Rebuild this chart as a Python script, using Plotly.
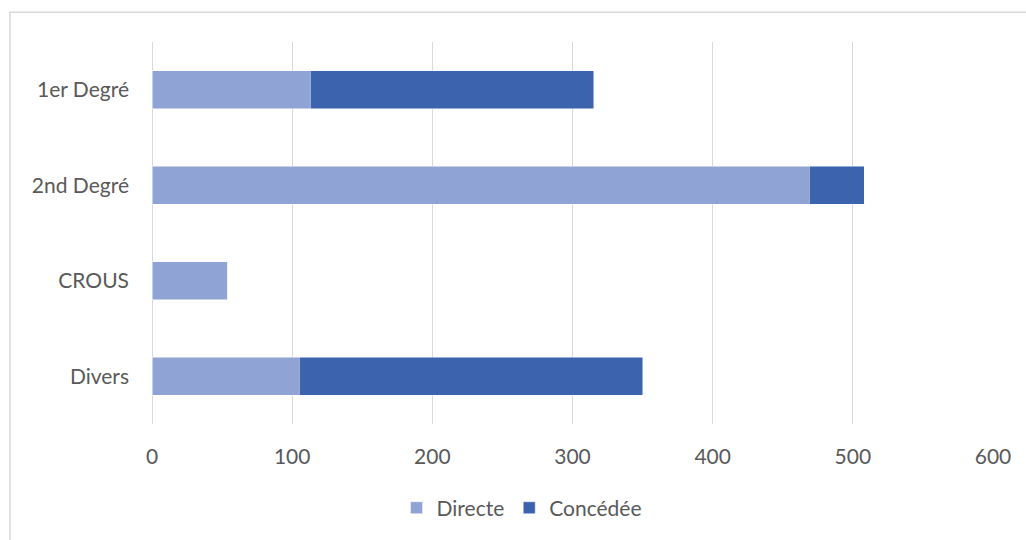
import plotly.graph_objects as go

categories = ["1er Degré", "2nd Degré", "CROUS", "Divers"]
directe = [113, 469, 54, 105]
concedee = [202, 39, 0, 245]
x_ticks = [0, 100, 200, 300, 400, 500, 600]

LIGHT = "#8FA4D4"
DARK = "#3C64AE"
FONT = "Lato"
TXT = "#595959"

fig = go.Figure()
fig.add_trace(go.Bar(y=categories, x=directe, name="Directe", orientation="h",
                     marker=dict(color=LIGHT, line=dict(color="rgba(255,255,255,0.6)", width=0.8))))
fig.add_trace(go.Bar(y=categories, x=concedee, name="Concédée", orientation="h",
                     marker=dict(color=DARK, line=dict(color="rgba(255,255,255,0.6)", width=0.8))))

fig.update_layout(
    width=1026, height=540,
    barmode="stack", bargap=0.6,
    paper_bgcolor="white", plot_bgcolor="white",
    margin=dict(l=152, r=33, t=42, b=114),
    font=dict(family=FONT, size=21, color=TXT),
    showlegend=True,
    legend=dict(orientation="h", x=0.44, xanchor="center", y=-0.22, yanchor="middle",
                font=dict(family=FONT, size=21, color=TXT), traceorder="normal",
                itemwidth=30),
    xaxis=dict(range=[0, 600], tickvals=x_ticks, showgrid=True, gridcolor="#D9D9D9",
               gridwidth=1, zeroline=True, zerolinecolor="#D9D9D9", zerolinewidth=1,
               showline=False, ticks="", ticklabelstandoff=18,
               tickfont=dict(family=FONT, size=21, color=TXT)),
    yaxis=dict(categoryorder="array", categoryarray=categories, autorange="reversed",
               showgrid=False, showline=False, ticks="", ticklabelstandoff=22,
               tickfont=dict(family=FONT, size=21, color=TXT)),
    shapes=[dict(type="rect", xref="paper", yref="paper",
                 x0=(10 - 152) / 841, x1=(1030 - 152) / 841,
                 y0=-(545 - 426) / 384, y1=1 + (42 - 12) / 384,
                 line=dict(color="#D9D9D9", width=1.5), fillcolor="rgba(0,0,0,0)", layer="below")],
)

fig.write_html("out.html")
